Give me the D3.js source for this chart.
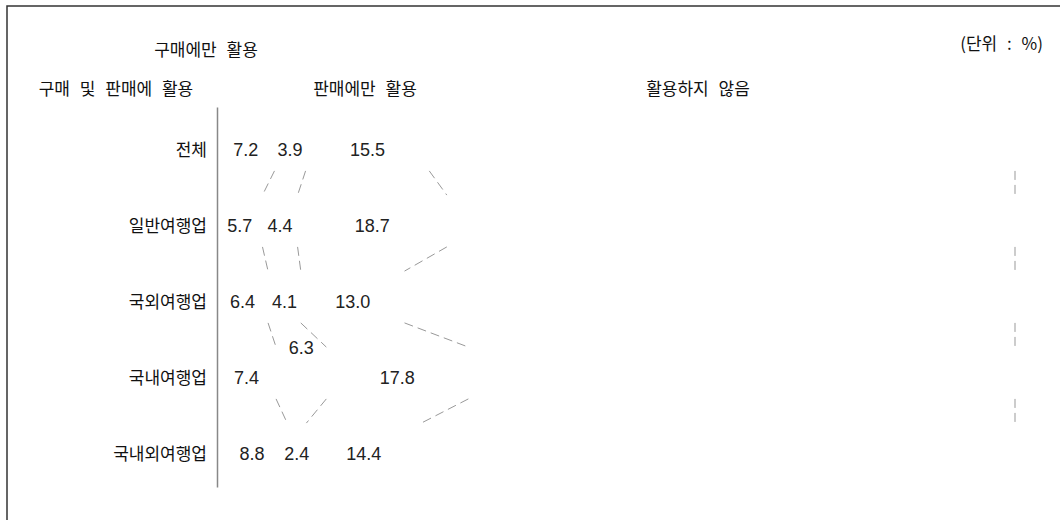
<!DOCTYPE html>
<html>
<head>
<meta charset="utf-8">
<script src="https://cdn.jsdelivr.net/npm/d3@7"></script>
<style>
  html, body { margin: 0; padding: 0; background: #fff; }
  svg { display: block; }
  .cat { font-family: "Noto Sans CJK KR", sans-serif; font-size: 17px; fill: #111; }
  .legend { font-family: "Noto Sans CJK KR", sans-serif; font-size: 17px; fill: #111; word-spacing: 6px; }
  .val { font-family: "Liberation Sans", Arial, sans-serif; font-size: 18px; fill: #222; }
</style>
</head>
<body>
<svg id="chart" width="1060" height="520"></svg>
<script>
const categories = ['전체', '일반여행업', '국외여행업', '국내여행업', '국내외여행업']
const seriesNames = ['구매 및 판매에 활용', '구매에만 활용', '판매에만 활용', '활용하지 않음']

const buySell = [7.2, 5.7, 6.4, 7.4, 8.8]
const buyOnly = [3.9, 4.4, 4.1, 6.3, 2.4]
const sellOnly = [15.5, 18.7, 13.0, 17.8, 14.4]
const notUsed = [73.4, 71.2, 76.5, 68.5, 74.4]

const seriesValues = [buySell, buyOnly, sellOnly, notUsed]
const unitLabel = '(단위 : %)'

// label pushed up where the segment is crowded
const labelNudge = { '국내여행업|1': -30 }

const svg = d3.select('#chart')

svg.append('rect')
    .attr('x', 7)
    .attr('y', 6)
    .attr('width', 1080)
    .attr('height', 540)
    .attr('fill', 'none')
    .attr('stroke', '#333')
    .attr('stroke-width', 1.5)

const x = d3.scaleLinear()
    .domain([0, 100])
    .range([217, 1015])

const y = d3.scaleBand()
    .domain(categories)
    .range([107, 487])
    .paddingInner(0.318)
    .paddingOuter(0.159)

const rows = categories.map((c, i) => {
  let acc = 0
  const segs = seriesValues.map((s, k) => {
    const seg = { cat: c, k, v: s[i], x0: acc, x1: acc + s[i] }
    acc += s[i]
    return seg
  })
  return { cat: c, segs }
})

// bars (white)
const bars = svg.append('g')
rows.forEach(r => {
  bars.selectAll(null)
    .data(r.segs)
    .join('rect')
      .attr('x', d => x(d.x0))
      .attr('y', y(r.cat))
      .attr('width', d => x(d.x1) - x(d.x0))
      .attr('height', y.bandwidth())
      .attr('fill', '#fff')
})

// connectors between adjacent bars
const links = []
for (let i = 0; i < rows.length - 1; i++) {
  rows[i].segs.forEach((s, k) => {
    const next = rows[i + 1].segs[k]
    links.push({
      x1: x(Math.min(s.x1, 100)),
      y1: y(rows[i].cat) + y.bandwidth(),
      x2: x(Math.min(next.x1, 100)),
      y2: y(rows[i + 1].cat),
    })
  })
}

svg.append('g')
  .selectAll('line')
  .data(links)
  .join('line')
    .attr('x1', d => d.x1)
    .attr('y1', d => d.y1)
    .attr('x2', d => d.x2)
    .attr('y2', d => d.y2)
    .attr('stroke', '#999')
    .attr('stroke-width', 1)
    .attr('stroke-dasharray', '9,5')

// value labels (first three series)
const labels = svg.append('g')
rows.forEach(r => {
  labels.selectAll(null)
    .data(r.segs.filter(d => d.k < 3))
    .join('text')
      .attr('class', 'val')
      .attr('x', d => x((d.x0 + d.x1) / 2))
      .attr('y', d => y(r.cat) + y.bandwidth() / 2 + 5 + (labelNudge[r.cat + '|' + d.k] || 0))
      .attr('dy', '0.35em')
      .attr('text-anchor', 'middle')
      .text(d => d.v.toFixed(1))
})

// y axis
const yAxis = svg.append('g')
    .attr('transform', `translate(${x(0)},0)`)
    .call(d3.axisLeft(y).tickSize(0).tickPadding(10))

yAxis.select('.domain').attr('stroke', '#888').attr('stroke-width', 1.5)
yAxis.selectAll('text')
    .attr('class', 'cat')
    .attr('font-family', null)
    .attr('font-size', null)
    .attr('fill', null)
    .attr('dy', '0.35em')
    .attr('transform', 'translate(0,5)')

// legend
const legendPos = [
  { x: 116, y: 89 },
  { x: 206, y: 50 },
  { x: 365, y: 89 },
  { x: 698, y: 89 },
]
svg.append('g')
  .selectAll('text')
  .data(seriesNames)
  .join('text')
    .attr('class', 'legend')
    .attr('x', (d, i) => legendPos[i].x)
    .attr('y', (d, i) => legendPos[i].y)
    .attr('dy', '0.35em')
    .attr('text-anchor', 'middle')
    .text(d => d)

svg.append('text')
    .attr('class', 'legend')
    .attr('x', 1043)
    .attr('y', 44)
    .attr('dy', '0.35em')
    .attr('text-anchor', 'end')
    .text(unitLabel)
</script>
</body>
</html>
